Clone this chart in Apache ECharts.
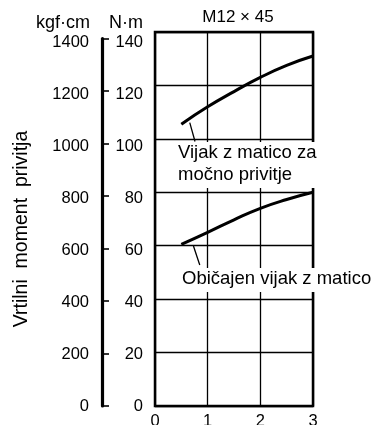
<!DOCTYPE html>
<html><head><meta charset="utf-8">
<script src="https://cdn.jsdelivr.net/npm/echarts@6/dist/echarts.min.js"></script>
<style>html,body{margin:0;padding:0;background:#fff}#c{width:376px;height:425px}</style>
</head><body><div id="c"></div>
<script>
// Data
const xValues = [0.5, 1, 1.5, 2, 2.5, 3];
const strongNutTorque = [105.5, 112, 117.7, 123, 127.5, 131];   // N·m
const normalNutTorque = [60.5, 65, 69.7, 74, 77.3, 80];         // N·m
const xTicks = [0, 1, 2, 3];
const nmTicks = [0, 20, 40, 60, 80, 100, 120, 140];
const kgfTicks = [0, 200, 400, 600, 800, 1000, 1200, 1400];
const strongLeader = [[0.66, 106.1], [0.76, 99]];
const normalLeader = [[0.73, 59.9], [0.85, 52.8]];

const FONT = 'Liberation Sans, Arial, sans-serif';
const chart = echarts.init(document.getElementById('c'), null, {renderer: 'canvas'});

const pairs = (xs, ys) => xs.map((x, i) => [x, ys[i]]);
const hiddenX = (g) => ({gridIndex: g, type: 'value', min: 0, max: 1, show: false});

chart.setOption({
  animation: false,
  backgroundColor: '#fff',
  textStyle: {fontFamily: FONT, color: '#000'},
  grid: [
    {left: 155, width: 158, top: 32, height: 374, show: true, borderColor: '#000', borderWidth: 2.5, containLabel: false, outerBoundsMode: 'none'},
    {left: 102, width: 1, top: 38.5, height: 367.5, containLabel: false, outerBoundsMode: 'none'},
    {left: 102, width: 1, top: 42, height: 364, containLabel: false, outerBoundsMode: 'none'}
  ],
  xAxis: [
    {gridIndex: 0, type: 'value', min: 0, max: 3, interval: 1,
     axisLine: {show: false}, axisTick: {show: false},
     axisLabel: {color: '#000', fontSize: 16.5, fontFamily: FONT, margin: 7,
       formatter: v => xTicks.includes(v) ? String(v) : ''},
     splitLine: {show: true, lineStyle: {color: '#000', width: 1.3}}},
    hiddenX(1), hiddenX(2)
  ],
  yAxis: [
    {gridIndex: 0, type: 'value', min: 0, max: 140, interval: 20,
     axisLine: {show: false}, axisTick: {show: false}, axisLabel: {show: false},
     splitLine: {show: true, lineStyle: {color: '#000', width: 1.3}}},
    // bracket axis line with ticks pointing right
    {gridIndex: 1, type: 'value', position: 'right', min: 0, max: 140, interval: 20,
     axisLine: {show: true, lineStyle: {color: '#000', width: 3.2}},
     axisTick: {show: true, inside: false, length: 7, lineStyle: {color: '#000', width: 1.6}},
     axisLabel: {show: false}, splitLine: {show: false}},
    // kgf·cm labels
    {gridIndex: 2, type: 'value', position: 'left', min: 0, max: 1400, interval: 200,
     axisLine: {show: false}, axisTick: {show: false},
     axisLabel: {color: '#000', fontSize: 16.5, fontFamily: FONT, margin: 13,
       formatter: v => kgfTicks.includes(v) ? String(v) : ''},
     splitLine: {show: false}},
    // N·m labels
    {gridIndex: 2, type: 'value', position: 'right', min: 0, max: 140, interval: 20,
     axisLine: {show: false}, axisTick: {show: false},
     axisLabel: {color: '#000', fontSize: 16.5, fontFamily: FONT, margin: 40, align: 'right',
       formatter: v => nmTicks.includes(v) ? String(v) : ''},
     splitLine: {show: false}}
  ],
  series: [
    {type: 'line', xAxisIndex: 0, yAxisIndex: 0, data: pairs(xValues, strongNutTorque), smooth: true,
     showSymbol: false, lineStyle: {color: '#000', width: 3}},
    {type: 'line', xAxisIndex: 0, yAxisIndex: 0, data: pairs(xValues, normalNutTorque), smooth: true,
     showSymbol: false, lineStyle: {color: '#000', width: 3}},
    {type: 'line', xAxisIndex: 0, yAxisIndex: 0, data: strongLeader, showSymbol: false,
     lineStyle: {color: '#000', width: 1.3}},
    {type: 'line', xAxisIndex: 0, yAxisIndex: 0, data: normalLeader, showSymbol: false,
     lineStyle: {color: '#000', width: 1.3}}
  ],
  graphic: [
    {type: 'text', x: 238, y: 17, style: {text: 'M12 × 45', font: '17px ' + FONT, fill: '#000', textAlign: 'center', textVerticalAlign: 'middle'}},
    {type: 'text', x: 90, y: 23, style: {text: 'kgf·cm', font: '18px ' + FONT, fill: '#000', textAlign: 'right', textVerticalAlign: 'middle'}},
    {type: 'text', x: 143, y: 23, style: {text: 'N·m', font: '18px ' + FONT, fill: '#000', textAlign: 'right', textVerticalAlign: 'middle'}},
    {type: 'text', x: 22, y: 229, rotation: Math.PI / 2, style: {text: 'Vrtilni  moment  privitja', font: '19.5px ' + FONT, fill: '#000', textAlign: 'center', textVerticalAlign: 'middle'}},
    {type: 'rect', shape: {x: 176, y: 142, width: 145, height: 46}, style: {fill: '#fff'}, z: 50},
    {type: 'text', x: 178, y: 153, z: 51, style: {text: 'Vijak z matico za', font: '18.5px ' + FONT, fill: '#000', textAlign: 'left', textVerticalAlign: 'middle'}},
    {type: 'text', x: 178, y: 174.5, z: 51, style: {text: 'močno privitje', font: '18.5px ' + FONT, fill: '#000', textAlign: 'left', textVerticalAlign: 'middle'}},
    {type: 'rect', shape: {x: 180, y: 268, width: 196, height: 24}, style: {fill: '#fff'}, z: 50},
    {type: 'text', x: 182, y: 279, z: 51, style: {text: 'Običajen vijak z matico', font: '18.5px ' + FONT, fill: '#000', textAlign: 'left', textVerticalAlign: 'middle'}}
  ]
});
</script></body></html>
